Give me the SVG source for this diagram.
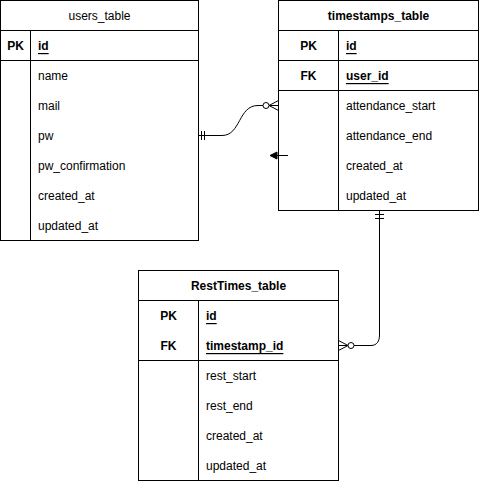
<svg xmlns="http://www.w3.org/2000/svg" width="489" height="481" viewBox="0 0 489 481">
<style>
.box{fill:#fff;stroke:#000;stroke-width:1}
.ln{fill:none;stroke:#000;stroke-width:1}
text{font-family:"Liberation Sans",Arial,Helvetica,sans-serif;font-size:12px;fill:#000;dominant-baseline:central}
.b{font-weight:bold}
.u{text-decoration:underline}
.c{text-anchor:middle}
</style>
<rect width="489" height="481" fill="#fff"/>
<g id="users_table">
<rect class="box" x="0.5" y="0.5" width="198" height="240"/>
<path class="ln" d="M0.5 30.5H198.5M0.5 60.5H198.5M30.5 30.5V240.5"/>
<text class="c" x="99.5" y="16">users_table</text>
<text class="c b" x="15.5" y="46">PK</text>
<text class="b u" x="38" y="46">id</text>
<text x="38" y="76">name</text>
<text x="38" y="106">mail</text>
<text x="38" y="136">pw</text>
<text x="38" y="166">pw_confirmation</text>
<text x="38" y="196">created_at</text>
<text x="38" y="226">updated_at</text>
</g>
<g id="timestamps_table">
<rect class="box" x="278.5" y="0.5" width="200" height="210"/>
<path class="ln" d="M278.5 30.5H478.5M278.5 60.5H478.5M278.5 90.5H478.5M338.5 30.5V210.5"/>
<text class="c b" x="378.5" y="16">timestamps_table</text>
<text class="c b" x="308.5" y="46">PK</text>
<text class="b u" x="346" y="46">id</text>
<text class="c b" x="308.5" y="76">FK</text>
<text class="b u" x="346" y="76">user_id</text>
<text x="346" y="106">attendance_start</text>
<text x="346" y="136">attendance_end</text>
<text x="346" y="166">created_at</text>
<text x="346" y="196">updated_at</text>
</g>
<g id="resttimes_table">
<rect class="box" x="138.5" y="270.5" width="200" height="210"/>
<path class="ln" d="M138.5 300.5H338.5M138.5 360.5H338.5M198.5 300.5V480.5"/>
<text class="c b" x="238.5" y="286">RestTimes_table</text>
<text class="c b" x="168.5" y="316">PK</text>
<text class="b u" x="206" y="316">id</text>
<text class="c b" x="168.5" y="346">FK</text>
<text class="b u" x="206" y="346">timestamp_id</text>
<text x="206" y="376">rest_start</text>
<text x="206" y="406">rest_end</text>
<text x="206" y="436">created_at</text>
<text x="206" y="466">updated_at</text>
</g>
<g id="connectors">
<path class="ln" d="M198.5 135.5H222C241 135.5 238 105.5 258 105.5H263"/>
<path class="ln" d="M201.5 131V140M204.5 131V140"/>
<circle class="ln" cx="266" cy="105.5" r="3"/>
<path class="ln" d="M269 105.5H278.5M269 105.5L278.5 100.5M269 105.5L278.5 110.5"/>
<path class="ln" d="M276 155.5H288"/>
<path d="M270 155.5L277 152V159Z" fill="#000" stroke="#000" stroke-width="1"/>
<path class="ln" d="M379.5 210.5V335C379.5 341 377 345.5 371 345.5H354"/>
<path class="ln" d="M375 214.5H384M375 218.5H384"/>
<circle class="ln" cx="351" cy="345.5" r="3"/>
<path class="ln" d="M348 345.5H338.5M348 345.5L338.5 340.5M348 345.5L338.5 350.5"/>
</g>
</svg>
